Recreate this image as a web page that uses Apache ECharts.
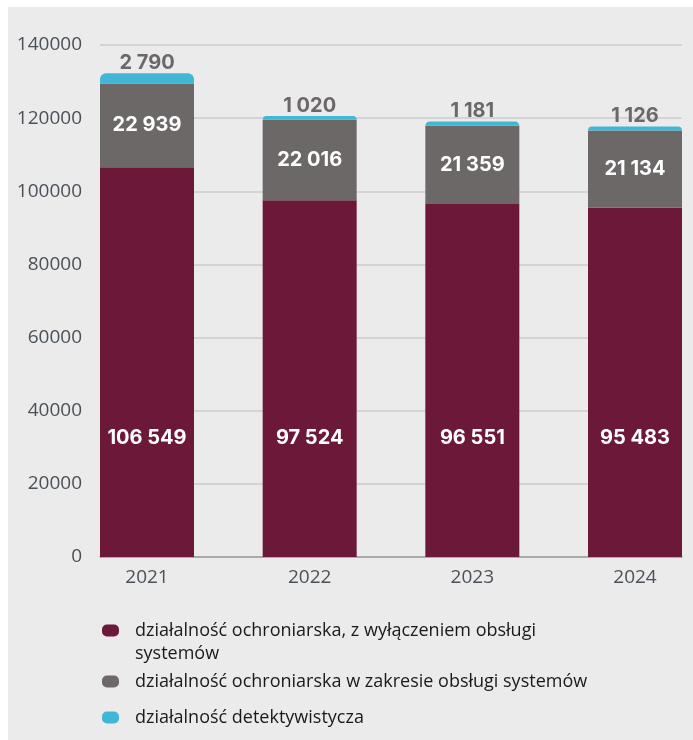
<!DOCTYPE html>
<html><head><meta charset="utf-8">
<script src="https://cdn.jsdelivr.net/npm/echarts@6/dist/echarts.min.js"></script>
<style>
html,body{margin:0;padding:0;background:#fff;}
#panel{position:absolute;left:8px;top:7px;width:685px;height:733px;background:#ebebeb;}
#chart{position:absolute;left:0;top:0;width:693px;height:740px;}
</style></head><body>
<div id="panel"></div><div id="chart"></div>
<script>
const categories = ['2021', '2022', '2023', '2024'];
const seriesNames = [
  'działalność ochroniarska, z wyłączeniem obsługi systemów',
  'działalność ochroniarska w zakresie obsługi systemów',
  'działalność detektywistycza'
];
const guarding = [106549, 97524, 96551, 95483];
const systems = [22939, 22016, 21359, 21134];
const detective = [2790, 1020, 1181, 1126];
const yMin = 0, yMax = 140000, yStep = 20000;

const colors = ['#6b1839', '#6c6868', '#40b8d5'];
function fmt(v) { return String(v).replace(/\B(?=(\d{3})+(?!\d))/g, ' '); }
const valFont = { fontFamily: 'Inter', fontWeight: 'bold', fontSize: 20 };
const pill = 'path://M5,0H12A5,5,0,0,1,17,5V7A5,5,0,0,1,12,12H5A5,5,0,0,1,0,7V5A5,5,0,0,1,5,0Z';
const legendText = { fontFamily: 'Open Sans', fontSize: 18, color: '#1a1a1a', lineHeight: 23, padding: [0, 0, 0, 11] };

const chart = echarts.init(document.getElementById('chart'), null, { renderer: 'canvas' });
chart.setOption({
  backgroundColor: 'transparent',
  animation: false,
  grid: [
    { left: 100, right: 11, top: 45, height: 512 },
    { left: 147, right: 58, top: 45, height: 512 }
  ],
  xAxis: [
    { gridIndex: 0, type: 'category', data: categories, axisLabel: { show: false },
      axisTick: { show: false }, axisLine: { lineStyle: { color: '#9c9c9c', width: 1.5 } } },
    { gridIndex: 1, type: 'category', data: categories, boundaryGap: false,
      axisLine: { show: false }, axisTick: { show: false },
      axisLabel: { margin: 11, fontFamily: 'Open Sans', fontSize: 19, color: '#4b5158' } }
  ],
  yAxis: [
    { gridIndex: 0, type: 'value', min: yMin, max: yMax, interval: yStep,
      axisLine: { show: false }, axisTick: { show: false },
      axisLabel: { margin: 18, fontFamily: 'Open Sans', fontSize: 19, color: '#4b5158',
        formatter: v => String(v) },
      splitLine: { lineStyle: { color: '#cdcdcd', width: 1.5 } } },
    { gridIndex: 1, type: 'value', min: yMin, max: yMax, interval: yStep, show: false,
      splitLine: { show: false } }
  ],
  legend: [
    { data: [seriesNames[0]], orient: 'vertical', left: 102, top: 596, padding: 0,
      icon: pill, itemWidth: 17, itemHeight: 12,
      formatter: n => '\u00a0\n' + n.replace(' systemów', '\nsystemów'),
      textStyle: legendText },
    { data: [seriesNames[1]], orient: 'vertical', left: 102, top: 670, padding: 0,
      icon: pill, itemWidth: 17, itemHeight: 12, textStyle: legendText },
    { data: [seriesNames[2]], orient: 'vertical', left: 102, top: 706, padding: 0,
      icon: pill, itemWidth: 17, itemHeight: 12, textStyle: legendText }
  ],
  series: [
    { name: seriesNames[0], type: 'bar', stack: 'total', xAxisIndex: 1, yAxisIndex: 1,
      barWidth: 94, data: guarding, itemStyle: { color: colors[0] },
      label: Object.assign({ show: true, position: 'insideBottom', distance: 109, color: '#fff',
        formatter: p => fmt(p.value) }, valFont) },
    { name: seriesNames[1], type: 'bar', stack: 'total', xAxisIndex: 1, yAxisIndex: 1,
      barWidth: 94, data: systems, itemStyle: { color: colors[1] },
      label: Object.assign({ show: true, position: 'inside', color: '#fff',
        formatter: p => fmt(p.value) }, valFont) },
    { name: seriesNames[2], type: 'bar', stack: 'total', xAxisIndex: 1, yAxisIndex: 1,
      barWidth: 94, data: detective, itemStyle: { color: colors[2], borderRadius: [6, 6, 0, 0] },
      label: Object.assign({ show: true, position: 'top', distance: 0, color: '#6c6868',
        formatter: p => fmt(p.value) }, valFont) }
  ]
});
</script>
</body></html>
